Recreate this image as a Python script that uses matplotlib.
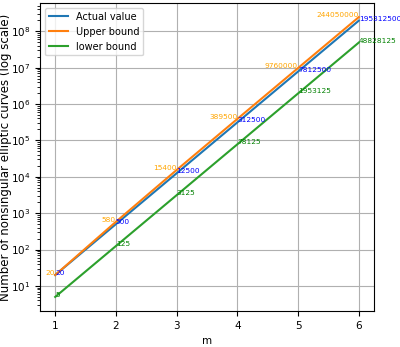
import numpy as np
import matplotlib.pyplot as plt

m = [1, 2, 3, 4, 5, 6]
actual = [20, 500, 12500, 312500, 7812500, 195312500]
upper = [20, 580, 15400, 389500, 9760000, 244050000]
lower = [5, 125, 3125, 78125, 1953125, 48828125]

fig, ax = plt.subplots(figsize=(4.0, 3.47), dpi=100)
ax.plot(m, actual, label='Actual value')
ax.plot(m, upper, label='Upper bound')
ax.plot(m, lower, label='lower bound')

# value labels next to each point
for x, y in zip(m, upper):
    ax.text(x, y, str(y), color='orange', fontsize=5.3, ha='right')
for x, y in zip(m, actual):
    ax.text(x, y, str(y), color='blue', fontsize=5.3, ha='left')
for x, y in zip(m, lower):
    ax.text(x, y, str(y), color='green', fontsize=5.3, ha='left')

ax.set_yscale('log')
ax.set_xlabel('m', fontsize=7.5)
ax.set_ylabel('Number of nonsingular elliptic curves (log scale)', fontsize=8.5)
ax.yaxis.set_label_coords(-0.083, 0.5)
ax.tick_params(labelsize=7.5)
ax.grid(True)
ax.legend(loc='upper left', fontsize=7)
plt.subplots_adjust(left=0.1, right=0.935, top=0.991, bottom=0.104)
plt.savefig('out.png', dpi=100)
